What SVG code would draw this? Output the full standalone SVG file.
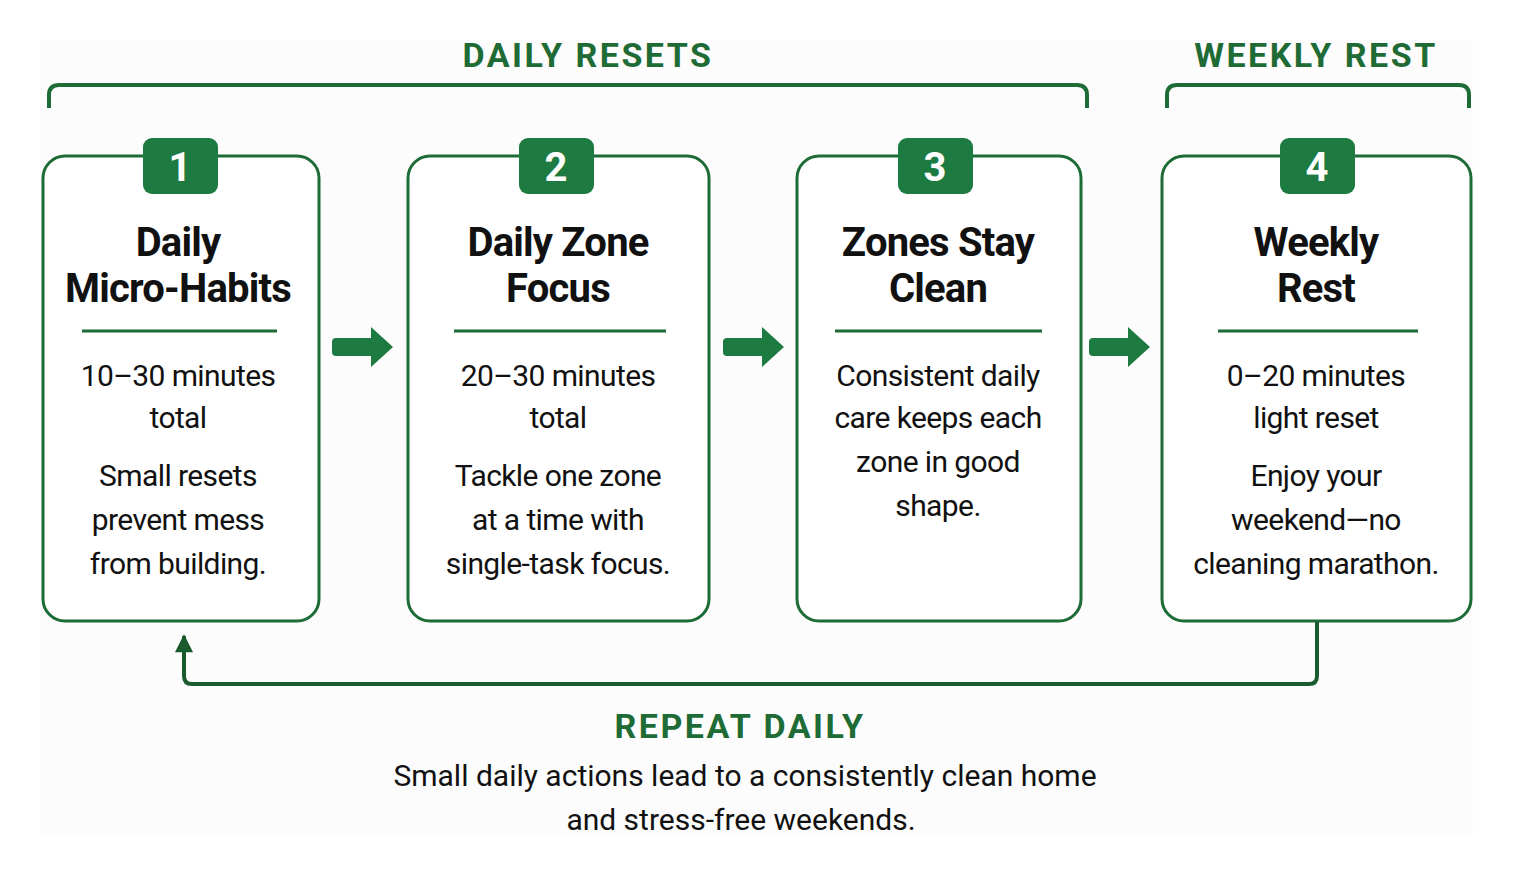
<svg xmlns="http://www.w3.org/2000/svg" width="1513" height="872" viewBox="0 0 1513 872">
<style>
.bg{fill:#ffffff}
.panel{fill:#fcfcfc}
.bracket{fill:none;stroke:#1d6b36;stroke-width:4;stroke-linejoin:round}
.hdr{font-family:Roboto,"Liberation Sans",sans-serif;font-weight:700;font-size:34px;fill:#1e6b35;letter-spacing:2.5px;text-anchor:middle}
.box{fill:#ffffff;stroke:#1d6b36;stroke-width:3}
.badge{fill:#1d7a40}
.num{font-family:Roboto,"Liberation Sans",sans-serif;font-weight:700;font-size:40px;fill:#ffffff;text-anchor:middle}
.title{font-family:Roboto,"Liberation Sans",sans-serif;font-weight:700;font-size:40px;fill:#111111;letter-spacing:-0.8px;text-anchor:middle}
.div{stroke:#1d6b36;stroke-width:3}
.body{font-family:Roboto,"Liberation Sans",sans-serif;font-size:30px;fill:#111111;letter-spacing:-0.6px;text-anchor:middle}
.blk{fill:#1d7a40}
.loop{fill:none;stroke:#1a5c2e;stroke-width:4;stroke-linejoin:round}
.foot{font-family:Roboto,"Liberation Sans",sans-serif;font-size:30px;fill:#111111;text-anchor:middle}
</style>
<defs>
<marker id="ah" viewBox="0 0 10 10" refX="9" refY="5" markerWidth="5.5" markerHeight="4.5" markerUnits="strokeWidth" orient="auto">
<path d="M0,0 L10,5 L0,10 Z" fill="#1a5c2e"/>
</marker>
</defs>
<rect class="bg" x="0" y="0" width="1513" height="872"/>
<rect class="panel" x="40" y="40" width="1433" height="795"/>

<g id="brackets">
<path class="bracket" d="M49,108 V95 Q49,85 59,85 H1077 Q1087,85 1087,95 V108"/>
<text class="hdr" x="588" y="67">DAILY RESETS</text>
<path class="bracket" d="M1167,108 V95 Q1167,85 1177,85 H1459 Q1469,85 1469,95 V108"/>
<text class="hdr" x="1316" y="67">WEEKLY REST</text>
</g>

<g id="node1">
<rect class="box" x="43" y="156" width="276" height="465" rx="22"/>
<rect class="badge" x="143" y="138" width="75" height="56" rx="9"/>
<text class="num" x="180" y="181">1</text>
<text class="title" x="178" y="256">Daily</text>
<text class="title" x="178" y="302">Micro-Habits</text>
<line class="div" x1="82" y1="331" x2="277" y2="331"/>
<text class="body" x="178" y="386">10–30 minutes</text>
<text class="body" x="178" y="428">total</text>
<text class="body" x="178" y="486">Small resets</text>
<text class="body" x="178" y="530">prevent mess</text>
<text class="body" x="178" y="574">from building.</text>
</g>

<g id="node2">
<rect class="box" x="408" y="156" width="301" height="465" rx="22"/>
<rect class="badge" x="519" y="138" width="75" height="56" rx="9"/>
<text class="num" x="556" y="181">2</text>
<text class="title" x="558" y="256">Daily Zone</text>
<text class="title" x="558" y="302">Focus</text>
<line class="div" x1="454" y1="331" x2="666" y2="331"/>
<text class="body" x="558" y="386">20–30 minutes</text>
<text class="body" x="558" y="428">total</text>
<text class="body" x="558" y="486">Tackle one zone</text>
<text class="body" x="558" y="530">at a time with</text>
<text class="body" x="558" y="574">single-task focus.</text>
</g>

<g id="node3">
<rect class="box" x="797" y="156" width="284" height="465" rx="22"/>
<rect class="badge" x="898" y="138" width="75" height="56" rx="9"/>
<text class="num" x="935" y="181">3</text>
<text class="title" x="938" y="256">Zones Stay</text>
<text class="title" x="938" y="302">Clean</text>
<line class="div" x1="835" y1="331" x2="1042" y2="331"/>
<text class="body" x="938" y="386">Consistent daily</text>
<text class="body" x="938" y="428">care keeps each</text>
<text class="body" x="938" y="472">zone in good</text>
<text class="body" x="938" y="516">shape.</text>
</g>

<g id="node4">
<rect class="box" x="1162" y="156" width="309" height="465" rx="22"/>
<rect class="badge" x="1280" y="138" width="75" height="56" rx="9"/>
<text class="num" x="1317" y="181">4</text>
<text class="title" x="1316" y="256">Weekly</text>
<text class="title" x="1316" y="302">Rest</text>
<line class="div" x1="1218" y1="331" x2="1418" y2="331"/>
<text class="body" x="1316" y="386">0–20 minutes</text>
<text class="body" x="1316" y="428">light reset</text>
<text class="body" x="1316" y="486">Enjoy your</text>
<text class="body" x="1316" y="530">weekend—no</text>
<text class="body" x="1316" y="574">cleaning marathon.</text>
</g>

<g id="connectors">
<path class="blk" d="M336,338 H371 V327 L393,347 L371,367 V356 H336 Q332,356 332,352 V342 Q332,338 336,338 Z"/>
<path class="blk" d="M727,338 H762 V327 L784,347 L762,367 V356 H727 Q723,356 723,352 V342 Q723,338 727,338 Z"/>
<path class="blk" d="M1093,338 H1128 V327 L1150,347 L1128,367 V356 H1093 Q1089,356 1089,352 V342 Q1089,338 1093,338 Z"/>
<path class="loop" d="M1317,622 V676 Q1317,684 1309,684 H192 Q184,684 184,676 V636" marker-end="url(#ah)"/>
</g>

<g id="footer">
<text class="hdr" x="740" y="738">REPEAT DAILY</text>
<text class="foot" x="745" y="786">Small daily actions lead to a consistently clean home</text>
<text class="foot" x="741" y="830">and stress-free weekends.</text>
</g>
</svg>
